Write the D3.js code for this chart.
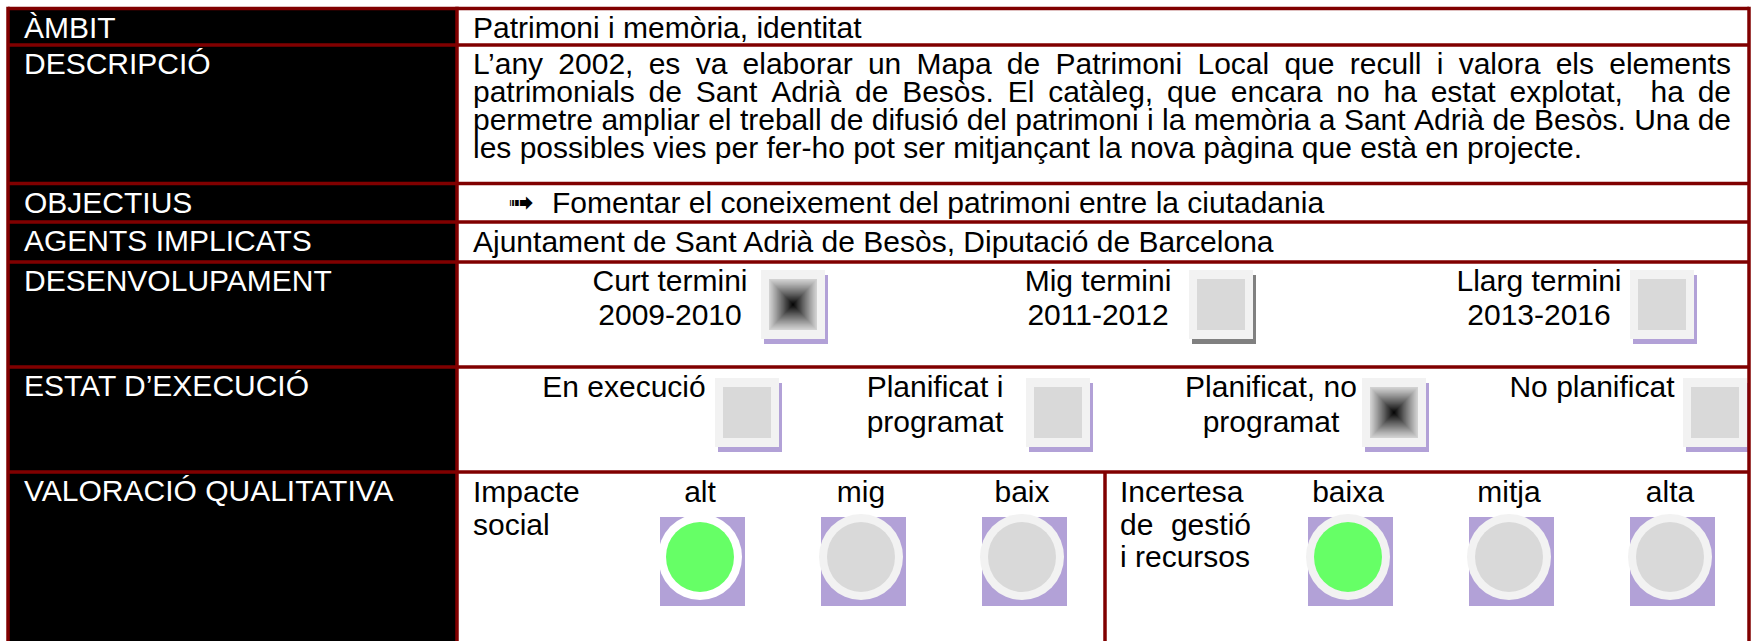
<!DOCTYPE html>
<html><head><meta charset="utf-8">
<script src="https://cdn.jsdelivr.net/npm/d3@7"></script>
<style>html,body{margin:0;padding:0;background:#fff;overflow:hidden}</style>
</head><body><svg id="c" width="1754" height="641"></svg>
<script>
// ---------------- DATA ----------------
const rowLabels = ["ÀMBIT","DESCRIPCIÓ","OBJECTIUS","AGENTS IMPLICATS","DESENVOLUPAMENT","ESTAT D’EXECUCIÓ","VALORACIÓ QUALITATIVA"];
const ambitText = "Patrimoni i memòria, identitat";
const descripcioLines = [
  "L’any 2002, es va elaborar un Mapa de Patrimoni Local que recull i valora els elements",
  "patrimonials de Sant Adrià de Besòs. El catàleg, que encara no ha estat explotat,  ha de",
  "permetre ampliar el treball de difusió del patrimoni i la memòria a Sant Adrià de Besòs. Una de",
  "les possibles vies per fer-ho pot ser mitjançant la nova pàgina que està en projecte."
];
const objectiusItems = ["Fomentar el coneixement del patrimoni entre la ciutadania"];
const agentsText = "Ajuntament de Sant Adrià de Besòs, Diputació de Barcelona";
const desenvLabels = [["Curt termini","2009-2010"],["Mig termini","2011-2012"],["Llarg termini","2013-2016"]];
const desenvChecked = [true,false,false];
const estatLabels = [["En execució"],["Planificat i","programat"],["Planificat, no","programat"],["No planificat"]];
const estatChecked = [false,false,true,false];
const impacteTitle = ["Impacte","social"];
const impacteLevels = ["alt","mig","baix"];
const impacteValue = "alt";
const incertesaTitle = ["Incertesa","de gestió","i recursos"];
const incertesaLevels = ["baixa","mitja","alta"];
const incertesaValue = "baixa";

// ---------------- LAYOUT / STYLE ----------------
const W = 1754, H = 641;
const FS = 30;
const FONT = "'Liberation Sans', Arial, Helvetica, sans-serif";
const RED = "#800000", PURPLE = "#b2a1d7";
const colX = [8, 457, 1749];
const rowY = [8.5, 45, 183.5, 222, 262, 367, 472, 720];
const valX = 473;
const rowTop = d3.scaleOrdinal().domain(rowLabels).range(rowY.slice(0,7));
const desenvShadow = [PURPLE, "#808080", PURPLE];
const desenvBoxX = d3.scaleOrdinal().domain(d3.range(3)).range([761,1189,1630]);
const estatBoxX = d3.scaleOrdinal().domain(d3.range(4)).range([715,1026,1362,1683]);
const xImp = d3.scalePoint().domain(impacteLevels).range([700,1022]);
const xInc = d3.scalePoint().domain(incertesaLevels).range([1348,1670]);
const circleY = 557;

const svg = d3.select("#c");
svg.append("rect").attr("width",W).attr("height",H).attr("fill","#fff");

const meas = svg.append("text").attr("font-family",FONT).attr("font-size",FS)
  .style("white-space","pre").attr("visibility","hidden");
function tw(s){ meas.text(s); return meas.node().getComputedTextLength(); }
const spaceW = tw("a a") - tw("aa");

function newText(g, o={}) {
  return g.append("text").attr("font-family", o.font||FONT).attr("font-size", o.size||FS)
    .attr("fill", o.fill||"#000").attr("text-anchor", o.anchor||"start");
}
function txt(g, s, x, y, o={}) {
  return newText(g, o).attr("x", x).attr("y", y).text(s);
}
// multi-line block as one text element; justified lines get word positions
function block(g, lines, x0, x1, y0, dy, o={}) {
  const t = newText(g, o);
  lines.forEach((line, li) => {
    const y = y0 + li*dy;
    const doJ = o.justify && (o.justifyLast || li < lines.length-1);
    if (!doJ) {
      t.append("tspan").attr("x", x0).attr("y", y).text(line);
      return;
    }
    const words = line.split(" ");
    const ws = words.map(wd => wd ? tw(wd) : 0);
    const gaps = words.length - 1;
    let gap = gaps > 0 ? (x1 - x0 - d3.sum(ws)) / gaps : spaceW;
    if (gap < spaceW*0.6) gap = spaceW*0.6;
    let x = x0;
    words.forEach((wd,i) => {
      if (wd) t.append("tspan").attr("x", x).attr("y", y).text(wd);
      x += ws[i] + gap;
    });
  });
  return t;
}

// label column
svg.append("rect").attr("x",colX[0]).attr("y",rowY[0]).attr("width",colX[1]-colX[0]).attr("height",H).attr("fill","#000");
const gl = svg.append("g");
rowLabels.forEach(l => txt(gl, l, 24, rowTop(l)+29.3, {fill:"#fff"}));

const gv = svg.append("g");
// ÀMBIT
txt(gv, ambitText, valX, rowTop(rowLabels[0])+29.3);
// DESCRIPCIÓ
block(gv, descripcioLines, valX, 1731, rowTop(rowLabels[1])+29.3, 27.8, {justify:true});
// OBJECTIUS
objectiusItems.forEach((o,i) => {
  const y = rowTop(rowLabels[2]) + 29.5 + i*28;
  txt(gv, "➟", 508, y, {font:"'DejaVu Sans'", size:31});
  txt(gv, o, 552, y);
});
// AGENTS
txt(gv, agentsText, valX, rowTop(rowLabels[3])+29.5);

// boxes
function drawBox(g, x, y, checked, shadow) {
  g.append("rect").attr("x",x+3).attr("y",y+5).attr("width",64).attr("height",69).attr("fill",shadow);
  g.append("rect").attr("x",x).attr("y",y).attr("width",64).attr("height",69).attr("fill","#f2f2f2");
  const ix = x+8, iy = y+9, iw = 48, ih = 51;
  if (!checked) {
    g.append("rect").attr("x",ix).attr("y",iy).attr("width",iw).attr("height",ih).attr("fill","#d9d9d9");
  } else {
    const N = 30, col = d3.interpolateRgb("#d2d2d2","#000000");
    for (let k = 0; k < N; k++) {
      const t = k / N;
      g.append("rect").attr("x",ix+t*iw/2).attr("y",iy+t*ih/2)
        .attr("width",iw*(1-t)).attr("height",ih*(1-t)).attr("fill",col(Math.pow(t,1.1)));
    }
  }
}
const gd = svg.append("g");
const dTop = rowTop(rowLabels[4]);
desenvLabels.forEach((lines,i) => {
  const bx = desenvBoxX(i);
  block(gd, lines, bx-91, null, dTop+29, 34, {anchor:"middle"});
  drawBox(gd, bx, dTop+8, desenvChecked[i], desenvShadow[i]);
});
const ge = svg.append("g");
const eTop = rowTop(rowLabels[5]);
estatLabels.forEach((lines,i) => {
  const bx = estatBoxX(i);
  block(ge, lines, bx-91, null, eTop+30, 35, {anchor:"middle"});
  drawBox(ge, bx, eTop+11, estatChecked[i], PURPLE);
});

// VALORACIÓ
const gq = svg.append("g");
const qTop = rowTop(rowLabels[6]);
block(gq, impacteTitle, valX, null, qTop+30, 32.5);
block(gq, incertesaTitle, 1120, 1251, qTop+30, 32.5, {justify:true});
function drawCircle(g, cx, cy, on, ring) {
  g.append("rect").attr("x",cx-40).attr("y",cy-40).attr("width",85).attr("height",89).attr("fill",PURPLE);
  g.append("ellipse").attr("cx",cx).attr("cy",cy).attr("rx",42).attr("ry",43).attr("fill",ring);
  g.append("ellipse").attr("cx",cx).attr("cy",cy).attr("rx",34).attr("ry",35).attr("fill",on ? "#66ff66" : "#d9d9d9");
}
impacteLevels.forEach(l => {
  txt(gq, l, xImp(l), qTop+30, {anchor:"middle"});
  drawCircle(gq, xImp(l), circleY, l === impacteValue, l === impacteValue ? "#ffffff" : "#f2f2f2");
});
incertesaLevels.forEach(l => {
  txt(gq, l, xInc(l), qTop+30, {anchor:"middle"});
  drawCircle(gq, xInc(l), circleY, l === incertesaValue, "#f2f2f2");
});

// borders
const gb = svg.append("g").attr("stroke",RED).attr("stroke-width",3.5);
rowY.slice(0,7).forEach(y => gb.append("line").attr("x1",colX[0]).attr("x2",colX[2]).attr("y1",y).attr("y2",y));
colX.forEach(x => gb.append("line").attr("x1",x).attr("x2",x).attr("y1",rowY[0]-1.75).attr("y2",H+10));
gb.append("line").attr("x1",1105).attr("x2",1105).attr("y1",rowY[6]).attr("y2",H+10);
meas.remove();
</script></body></html>
